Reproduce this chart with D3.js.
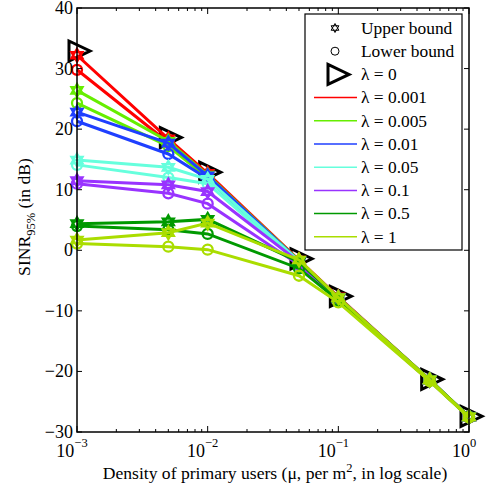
<!DOCTYPE html>
<html>
<head>
<meta charset="utf-8">
<script src="https://cdn.jsdelivr.net/npm/d3@7"></script>
</head>
<body style="margin:0">
<script>
// density of primary users (per m^2)
const densities = [0.001, 0.005, 0.01, 0.05, 0.1, 0.5, 1];

// lambda = 0 (triangles only)
const lambdaZero = [32.9, 18.6, 12.9, -1.4, -7.6, -21.3, -27.4];

const lambdaLabels = ["0.001", "0.005", "0.01", "0.05", "0.1", "0.5", "1"];
const lambdaColors = ["#ff0000", "#66ee00", "#1f3fff", "#66ffdd", "#9933ff", "#009900", "#aadd00"];

// SINR 95% upper bound (stars), one row per lambda
const upperBound = [
  [32.2, 18.4, 12.7, -1.6, -7.7, -21.4, -27.5],
  [26.4, 18.0, 12.4, -1.7, -7.8, -21.4, -27.5],
  [22.8, 17.7, 12.3, -1.8, -7.8, -21.4, -27.5],
  [14.9, 13.7, 11.7, -1.8, -7.9, -21.4, -27.5],
  [11.5, 10.8, 9.7, -1.9, -7.9, -21.4, -27.5],
  [4.4, 4.7, 5.1, -1.9, -7.9, -21.4, -27.5],
  [1.7, 2.9, 4.5, -1.6, -7.8, -21.4, -27.5]
];

// SINR 95% lower bound (circles)
const lowerBound = [
  [29.8, 17.8, 12.3, -1.9, -7.9, -21.5, -27.5],
  [24.3, 17.2, 11.9, -2.0, -8.0, -21.5, -27.5],
  [21.3, 15.9, 11.8, -2.1, -8.0, -21.5, -27.5],
  [14.1, 12.0, 11.0, -2.2, -8.1, -21.5, -27.5],
  [11.0, 9.4, 7.7, -2.4, -8.2, -21.5, -27.5],
  [4.0, 3.4, 2.7, -3.0, -8.3, -21.5, -27.5],
  [1.1, 0.6, 0.1, -4.2, -8.6, -21.6, -27.6]
];

const yTicks = [-30, -20, -10, 0, 10, 20, 30, 40];
const xTicks = [0.001, 0.01, 0.1, 1];
const xTickExp = ["\u22123", "\u22122", "\u22121", "0"];

const W = 487, H = 489;
const margin = { top: 8, right: 18, bottom: 57, left: 77 };
const width = W - margin.left - margin.right;
const height = H - margin.top - margin.bottom;
const FONT = "'Liberation Serif'";

const svg = d3.select("body").append("svg")
  .attr("width", W)
  .attr("height", H)
  .style("font-family", FONT);

const g = svg.append("g")
  .attr("transform", `translate(${margin.left},${margin.top})`);

const x = d3.scaleLog().domain([0.001, 1]).range([0, width]);
const y = d3.scaleLinear().domain([-30, 40]).range([height, 0]);

// hexagram path
function hexagram(r) {
  const tri = (rot) => d3.range(3).map(i => {
    const a = rot + i * 2 * Math.PI / 3;
    return [r * Math.sin(a), -r * Math.cos(a)];
  });
  const t1 = tri(0), t2 = tri(Math.PI);
  return "M" + t1.join("L") + "Z" + "M" + t2.join("L") + "Z";
}
const triPath = "M-8,-10L-8,10L13,0Z";

// lambda = 0 markers
g.selectAll(".tri")
  .data(densities.map((d, i) => [d, lambdaZero[i]]))
  .enter().append("path")
  .attr("class", "tri")
  .attr("transform", d => `translate(${x(d[0])},${y(d[1])})`)
  .attr("d", triPath)
  .attr("fill", "none")
  .attr("stroke", "#000")
  .attr("stroke-width", 3)
  .attr("stroke-linejoin", "miter");

const line = d3.line()
  .x((d, i) => x(densities[i]))
  .y(d => y(d));

lambdaColors.forEach((col, k) => {
  const s = g.append("g");
  s.append("path").datum(upperBound[k])
    .attr("d", line).attr("fill", "none")
    .attr("stroke", col).attr("stroke-width", 3);
  s.append("path").datum(lowerBound[k])
    .attr("d", line).attr("fill", "none")
    .attr("stroke", col).attr("stroke-width", 3);
  s.selectAll(".star").data(upperBound[k]).enter().append("path")
    .attr("transform", (d, i) => `translate(${x(densities[i])},${y(d)})`)
    .attr("d", hexagram(6.5))
    .attr("fill", "none").attr("stroke", col).attr("stroke-width", 2.2);
  s.selectAll(".circ").data(lowerBound[k]).enter().append("circle")
    .attr("cx", (d, i) => x(densities[i]))
    .attr("cy", d => y(d))
    .attr("r", 5)
    .attr("fill", "none").attr("stroke", col).attr("stroke-width", 2.3);
});

// box and ticks
g.append("rect").attr("width", width).attr("height", height)
  .attr("fill", "none").attr("stroke", "#000").attr("stroke-width", 1.5);

yTicks.forEach(t => {
  g.append("line").attr("x1", 0).attr("x2", 5).attr("y1", y(t)).attr("y2", y(t))
    .attr("stroke", "#000");
  g.append("line").attr("x1", width).attr("x2", width - 5).attr("y1", y(t)).attr("y2", y(t))
    .attr("stroke", "#000");
  g.append("text").attr("x", -4).attr("y", y(t)).attr("dy", "0.33em")
    .attr("text-anchor", "end").attr("font-size", 18).style("font-family", FONT)
    .text(t < 0 ? "\u2212" + Math.abs(t) : t);
});

const minor = [];
[0.001, 0.01, 0.1].forEach(b => { for (let m = 2; m <= 9; m++) minor.push(b * m); });
minor.forEach(t => {
  g.append("line").attr("x1", x(t)).attr("x2", x(t)).attr("y1", height).attr("y2", height - 3).attr("stroke", "#000");
  g.append("line").attr("x1", x(t)).attr("x2", x(t)).attr("y1", 0).attr("y2", 3).attr("stroke", "#000");
});
xTicks.forEach((t, i) => {
  g.append("line").attr("x1", x(t)).attr("x2", x(t)).attr("y1", height).attr("y2", height - 6).attr("stroke", "#000");
  g.append("line").attr("x1", x(t)).attr("x2", x(t)).attr("y1", 0).attr("y2", 6).attr("stroke", "#000");
  const tx = g.append("text").attr("x", x(t) - 5).attr("y", height + 25)
    .attr("text-anchor", "middle").attr("font-size", 18).style("font-family", FONT);
  tx.append("tspan").text("10");
  tx.append("tspan").attr("dy", -10).attr("font-size", 12.5).text(xTickExp[i]);
});

// axis titles
const xt = g.append("text").attr("x", width / 2 + 2).attr("y", height + 47)
  .attr("text-anchor", "middle").attr("font-size", 17.6).style("font-family", FONT);
xt.append("tspan").text("Density of primary users (\u03bc, per m");
xt.append("tspan").attr("dy", -7).attr("font-size", 12.5).text("2");
xt.append("tspan").attr("dy", 7).text(", in log scale)");

const yt = svg.append("text")
  .attr("transform", `translate(30,${margin.top + height / 2 - 3}) rotate(-90)`)
  .attr("text-anchor", "middle").attr("font-size", 17.6).style("font-family", FONT);
yt.append("tspan").text("SINR");
yt.append("tspan").attr("dy", 5).attr("font-size", 12.5).text("95%");
yt.append("tspan").attr("dy", -5).text(" (in dB)");

// legend
const lg = svg.append("g").attr("transform", "translate(305,14)");
lg.append("rect").attr("width", 157).attr("height", 236)
  .attr("fill", "#fff").attr("stroke", "#000").attr("stroke-width", 1.2);
const rowY = i => 14 + i * 23.2;
const legendItems = ["Upper bound", "Lower bound", "\u03bb = 0"].concat(lambdaLabels.map(l => "\u03bb = " + l));
legendItems.forEach((lab, i) => {
  lg.append("text").attr("x", 56).attr("y", rowY(i)).attr("dy", "0.33em")
    .attr("font-size", 17.4).style("font-family", FONT).text(lab);
});
lg.append("path").attr("transform", `translate(30,${rowY(0)})`).attr("d", hexagram(4.5))
  .attr("fill", "none").attr("stroke", "#000").attr("stroke-width", 1);
lg.append("circle").attr("cx", 30).attr("cy", rowY(1)).attr("r", 4)
  .attr("fill", "none").attr("stroke", "#000").attr("stroke-width", 1);
lg.append("path").attr("transform", `translate(31,${rowY(2)})`).attr("d", triPath)
  .attr("fill", "none").attr("stroke", "#000").attr("stroke-width", 3);
lambdaColors.forEach((col, k) => {
  lg.append("line").attr("x1", 9).attr("x2", 52)
    .attr("y1", rowY(k + 3)).attr("y2", rowY(k + 3))
    .attr("stroke", col).attr("stroke-width", 1.5);
});
</script>
</body>
</html>
